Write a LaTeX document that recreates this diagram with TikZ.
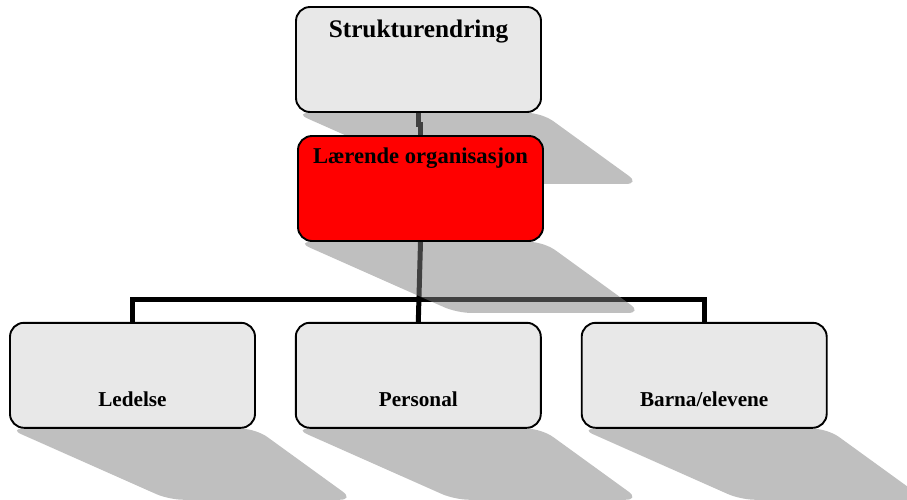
\documentclass[tikz,border=0pt]{standalone}
\usepackage{fontspec}
\setmainfont{Liberation Serif}
\begin{document}
\begin{tikzpicture}[x=1pt,y=-1pt,
  box/.style={draw=black,line width=1.9pt,rounded corners=14pt,
    minimum width=245pt,minimum height=105pt,inner sep=0pt,fill=boxgray},
  shade/.style={fill=black!50,fill opacity=0.5,rounded corners=14pt},
  conn/.style={draw=black,line width=5pt,line join=miter},
  lbl/.style={inner sep=0pt,font=\bfseries},
]
\definecolor{boxgray}{HTML}{E8E8E8}
\useasboundingbox (0,0) rectangle (907,499);
\clip (0,0) rectangle (907,499);

% boxes are placed first as empty paths so connectors can refer to them
\path (418.5,59.5) node[box,draw=none,fill=none] (top) {};
\path (420.5,188.5) node[box,draw=none,fill=none] (red) {};
\path (132.5,375.3) node[box,draw=none,fill=none] (b1) {};
\path (418.3,375.3) node[box,draw=none,fill=none] (b2) {};
\path (704.2,375.3) node[box,draw=none,fill=none] (b3) {};
\coordinate (bus) at (418,299.5);

% connectors
\draw[conn] (top.south) -- ++(0,12) -| (red.north);
\draw[conn] (red.south) -- (b2.north);
\draw[conn] (b1.north) -- (b1.north |- bus) -- (b3.north |- bus) -- (b3.north);

% slanted drop shadows, laid over the connectors
\foreach \n in {top,red,b1,b2,b3}{
  \path[shade] (\n.south west) -- (\n.south east)
    -- ([shift={(98,71)}]\n.south east)
    -- ([shift={(160,71)}]\n.south west) -- cycle;
}

% boxes
\node[box] at (top) {};
\node[box,fill=red] at (red) {};
\node[box] at (b1) {};
\node[box] at (b2) {};
\node[box] at (b3) {};

% labels
\node[lbl,anchor=base,font=\bfseries\fontsize{25.3}{30}\selectfont] (ttop) at ([yshift=-31pt]top.north) {Strukturendring};
\node[lbl,anchor=base,font=\bfseries\fontsize{22.6}{27}\selectfont] (tred) at ([yshift=-28pt]red.north) {Lærende organisasjon};
\node[lbl,anchor=base,font=\bfseries\fontsize{21.2}{25}\selectfont] (t1) at ([yshift=22pt]b1.south) {Ledelse};
\node[lbl,anchor=base,font=\bfseries\fontsize{21.2}{25}\selectfont] (t2) at ([yshift=22pt]b2.south) {Personal};
\node[lbl,anchor=base,font=\bfseries\fontsize{21.2}{25}\selectfont] (t3) at ([yshift=22pt]b3.south) {Barna/elevene};
\end{tikzpicture}
\end{document}
